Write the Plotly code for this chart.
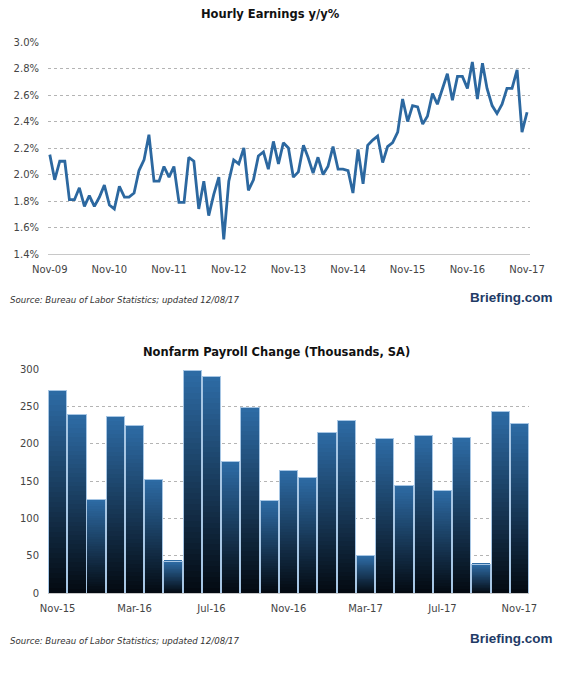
import plotly.graph_objects as go
import pandas as pd

# Hourly earnings, y/y %, monthly Nov-09 .. Nov-17
EARN_START = "2009-11-01"
earnings = [
    2.15, 1.96, 2.10, 2.10, 1.81, 1.81, 1.90, 1.76, 1.84, 1.76, 1.83, 1.92,
    1.77, 1.74, 1.91, 1.83, 1.83, 1.86, 2.03, 2.11, 2.30, 1.95, 1.95, 2.06,
    1.98, 2.06, 1.79, 1.79, 2.13, 2.10, 1.74, 1.95, 1.69, 1.85, 1.98, 1.51,
    1.95, 2.11, 2.08, 2.20, 1.88, 1.96, 2.14, 2.17, 2.04, 2.25, 2.08, 2.24,
    2.20, 1.98, 2.02, 2.22, 2.13, 2.01, 2.13, 2.00, 2.06, 2.21, 2.04, 2.04,
    2.03, 1.86, 2.19, 1.93, 2.22, 2.26, 2.29, 2.09, 2.21, 2.24, 2.32, 2.57,
    2.40, 2.52, 2.51, 2.38, 2.44, 2.61, 2.53, 2.65, 2.76, 2.56, 2.74, 2.74,
    2.65, 2.85, 2.57, 2.84, 2.65, 2.52, 2.46, 2.53, 2.65, 2.65, 2.79, 2.32,
    2.47,
]
earn_ticks = [1.4, 1.6, 1.8, 2.0, 2.2, 2.4, 2.6, 2.8, 3.0]

# Nonfarm payroll change, thousands SA, Nov-15 .. Nov-17
payroll_months = ["Nov-15", "Dec-15", "Jan-16", "Feb-16", "Mar-16", "Apr-16",
                  "May-16", "Jun-16", "Jul-16", "Aug-16", "Sep-16", "Oct-16",
                  "Nov-16", "Dec-16", "Jan-17", "Feb-17", "Mar-17", "Apr-17",
                  "May-17", "Jun-17", "Jul-17", "Aug-17", "Sep-17", "Oct-17",
                  "Nov-17"]
payroll = [272, 239, 126, 237, 225, 153, 43, 298, 291, 176, 249, 124,
           164, 155, 216, 232, 50, 207, 145, 211, 138, 208, 39, 244, 228]
payroll_ticks = [0, 50, 100, 150, 200, 250, 300]

SOURCE = "Source: Bureau of Labor Statistics; updated 12/08/17"
FONT = "DejaVu Sans"
# page body keeps its 8px margin, so the figure is drawn 16px smaller
OFF = 8
W, H = 584 - 2 * OFF, 675 - 2 * OFF


def px(x, y):
    # window pixel -> paper fraction
    return (x - OFF) / W, 1 - (y - OFF) / H


earn_dates = pd.date_range(EARN_START, periods=len(earnings), freq="MS")

fig = go.Figure()

fig.add_trace(go.Scatter(
    x=earn_dates, y=earnings, mode="lines",
    line=dict(color="#2c68a0", width=2.8),
    xaxis="x", yaxis="y", hoverinfo="skip",
))

# gradient bars: each bar split into thin stacked slices, dark at the base
N = 40
c0 = (3, 9, 16)
c1 = (46, 108, 166)
for k in range(N):
    t = (k + 0.5) / N
    col = "rgb(%d,%d,%d)" % tuple(round(a + (b - a) * t) for a, b in zip(c0, c1))
    fig.add_trace(go.Bar(
        x=payroll_months, y=[v / N for v in payroll],
        marker=dict(color=col, line=dict(width=0)),
        xaxis="x2", yaxis="y2", hoverinfo="skip",
    ))

# light outline round each bar
fig.add_trace(go.Bar(
    x=payroll_months, y=payroll,
    marker=dict(color="rgba(0,0,0,0)", line=dict(color="#a7c6e4", width=1)),
    xaxis="x3", yaxis="y3", hoverinfo="skip",
))

top_x = [px(48, 0)[0], px(530, 0)[0]]
top_y = [px(0, 254)[1], px(0, 42)[1]]
bot_x = [px(48, 0)[0], px(529, 0)[0]]
bot_y = [px(0, 593.3)[1], px(0, 369.3)[1]]

grid = dict(showgrid=True, gridcolor="#b4b4b4", griddash="dot", gridwidth=1)
tickfont = dict(family=FONT, size=10, color="#444444")

fig.update_layout(
    width=W, height=H,
    margin=dict(l=0, r=0, t=0, b=0),
    paper_bgcolor="white", plot_bgcolor="white",
    showlegend=False,
    barmode="stack", bargap=0.05,
    xaxis=dict(
        domain=top_x, type="date", automargin=False,
        range=["2009-10-21", "2017-11-19"],
        tick0=EARN_START, dtick="M12", tickformat="%b-%y",
        showgrid=False, zeroline=False,
        showline=True, linecolor="#c8c8c8", linewidth=1,
        ticks="", tickfont=tickfont, ticklabelstandoff=6,
    ),
    yaxis=dict(
        domain=top_y, range=[1.4, 3.0], automargin=False,
        tickvals=earn_ticks, ticktext=["%.1f%%" % v for v in earn_ticks],
        zeroline=False, ticks="", tickfont=tickfont,
        ticklabelstandoff=8, **grid,
    ),
    xaxis2=dict(
        domain=bot_x, type="category", range=[-0.5, len(payroll) - 0.5],
        tickvals=payroll_months[::4], showgrid=False, zeroline=False,
        showline=True, linecolor="#c8c8c8", linewidth=1, automargin=False,
        ticks="", tickfont=tickfont, ticklabelstandoff=6, anchor="y2",
    ),
    yaxis2=dict(
        domain=bot_y, range=[0, 300], tickvals=payroll_ticks,
        zeroline=False, ticks="", tickfont=tickfont, automargin=False,
        ticklabelstandoff=8, anchor="x2", **grid,
    ),
    xaxis3=dict(
        overlaying="x2", matches="x2", anchor="y3", type="category",
        visible=False, automargin=False,
    ),
    yaxis3=dict(
        overlaying="y2", matches="y2", anchor="x3", visible=False,
        automargin=False,
    ),
)

titles = [
    ("Hourly Earnings y/y%", 270.5, 14),
    ("Nonfarm Payroll Change (Thousands, SA)", 276, 352),
]
for text, x, y in titles:
    ax, ay = px(x, y)
    fig.add_annotation(
        text="<b>%s</b>" % text, x=ax, y=ay, xref="paper", yref="paper",
        xanchor="center", yanchor="middle", showarrow=False,
        font=dict(family=FONT, size=11.5, color="#111111"),
    )

for y in (300, 641):
    ax, ay = px(8, y)
    fig.add_annotation(
        text="<i>%s</i>" % SOURCE, x=ax, y=ay, xref="paper", yref="paper",
        xanchor="left", yanchor="middle", showarrow=False,
        font=dict(family=FONT, size=8.6, color="#333333"),
    )
    bx, by = px(511.5, y - 3)
    fig.add_annotation(
        text="<b>Briefing.com</b>", x=bx, y=by, xref="paper", yref="paper",
        xanchor="center", yanchor="middle", showarrow=False,
        font=dict(family="Liberation Sans", size=13.5, color="#223a66"),
    )

fig.write_html("out.html")
